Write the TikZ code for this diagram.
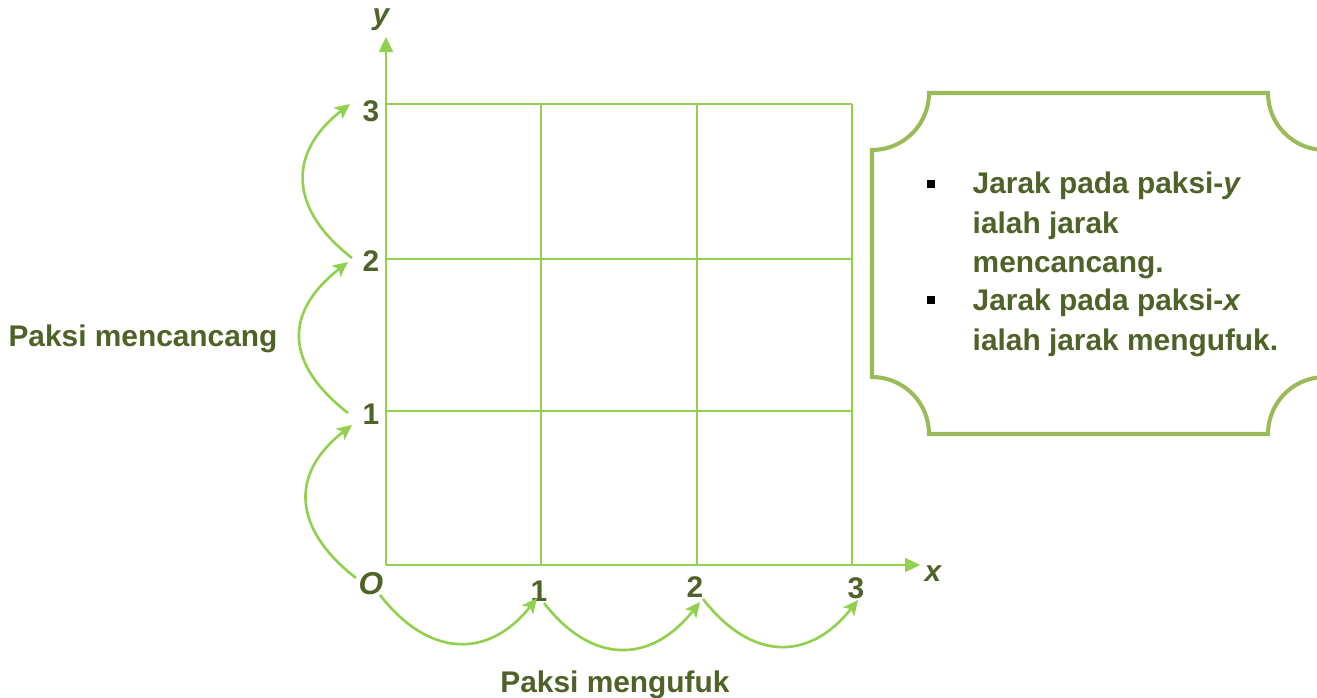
\documentclass[tikz,border=0pt]{standalone}
\usepackage{fontspec}
\setmainfont{Liberation Sans}
\usetikzlibrary{arrows.meta}
\definecolor{txtgreen}{HTML}{4F6228}
\definecolor{gridgreen}{HTML}{92D050}
\definecolor{boxgreen}{HTML}{9BBB59}
\tikzset{
  gridline/.style={draw=gridgreen,line width=0.65pt},
  axisline/.style={draw=gridgreen,line width=0.7pt,-{Triangle[length=1.5mm,width=1.4mm]}},
  hop/.style={draw=gridgreen,line width=0.75pt,-{Stealth[length=1.5mm,width=1.4mm,inset=0.35mm]}},
  lbl/.style={text=txtgreen,font=\fontsize{8.5}{10}\selectfont\bfseries,inner sep=0pt},
  boxtxt/.style={lbl,anchor=base west},
  bulletsq/.style={fill=black,draw=none,minimum size=0.8mm,inner sep=0pt}
}
\begin{document}
\begin{tikzpicture}[x=0.1mm,y=-0.1mm]
\clip (0,0) rectangle (1317,698);
\fill[white] (0,0) rectangle (1317,698);
% grid
\coordinate (o) at (386,565);
\foreach \gx in {541,697,852} \draw[gridline] (\gx,565) -- (\gx,104);
\foreach \gy in {104,259,411} \draw[gridline] (386,\gy) -- (852,\gy);
% axes
\coordinate (xend) at (920,565);
\coordinate (yend) at (386,37);
\draw[axisline] (o) -- (xend);
\draw[axisline] (o) -- (yend);
\node[lbl,font=\fontsize{8.5}{10}\selectfont\bfseries\itshape] (ylab) at (381,20) {y};
\node[lbl,font=\fontsize{8.5}{10}\selectfont\bfseries\itshape] (xlab) at (933,574) {x};
% tick labels
\node[lbl,font=\fontsize{9}{10}\selectfont\bfseries\itshape] (t0) at (371,584) {O};
\node[lbl] (y1) at (371,414) {1};
\node[lbl] (y2) at (371,261) {2};
\node[lbl] (y3) at (371,111) {3};
\node[lbl] (x1) at (539,591) {1};
\node[lbl] (x2) at (695,587) {2};
\node[lbl] (x3) at (856,588) {3};
% vertical hops
\coordinate (a0) at (356,578); \coordinate (a1) at (352,425);
\coordinate (b0) at (348,413); \coordinate (b1) at (348,262);
\coordinate (c0) at (352,258); \coordinate (c1) at (350,104);
\draw[hop] (a0) .. controls (293,529) and (289,474) .. (a1);
\draw[hop] (b0) .. controls (284,363) and (284,312) .. (b1);
\draw[hop] (c0) .. controls (289,209) and (287,153) .. (c1);
% horizontal hops
\coordinate (d0) at (380,595); \coordinate (d1) at (537,598);
\coordinate (e0) at (544,603); \coordinate (e1) at (700,602);
\coordinate (f0) at (703,599); \coordinate (f1) at (858,600);
\draw[hop] (d0) .. controls (428,657) and (488,660) .. (d1);
\draw[hop] (e0) .. controls (592,665) and (651,664) .. (e1);
\draw[hop] (f0) .. controls (751,661) and (809,662) .. (f1);
% axis titles
\node[lbl,anchor=base] (vt) at (143,346) {Paksi mencancang};
\node[lbl,anchor=base] (ht) at (615,692) {Paksi mengufuk};
% scalloped box
\draw[boxgreen,line width=1.15pt]
  (872,150) .. controls (903.5,150) and (929,124.5) .. (929,93)
  -- (1268,93)
  .. controls (1268,124.5) and (1293.5,150) .. (1325,150)
  -- (1325,377)
  .. controls (1293.5,377) and (1268,402.5) .. (1268,434)
  -- (929,434)
  .. controls (929,402.5) and (903.5,377) .. (872,377)
  -- cycle;
\node[bulletsq] (bul1) at (931,184) {};
\node[bulletsq] (bul2) at (931,300) {};
\node[boxtxt] (l1) at (972,194) {Jarak pada paksi-\textit{y}};
\node[boxtxt] (l2) at (972,233) {ialah jarak};
\node[boxtxt] (l3) at (972,272) {mencancang.};
\node[boxtxt] (l4) at (972,310) {Jarak pada paksi-\textit{x}};
\node[boxtxt] (l5) at (972,350) {ialah jarak mengufuk.};
\end{tikzpicture}
\end{document}
